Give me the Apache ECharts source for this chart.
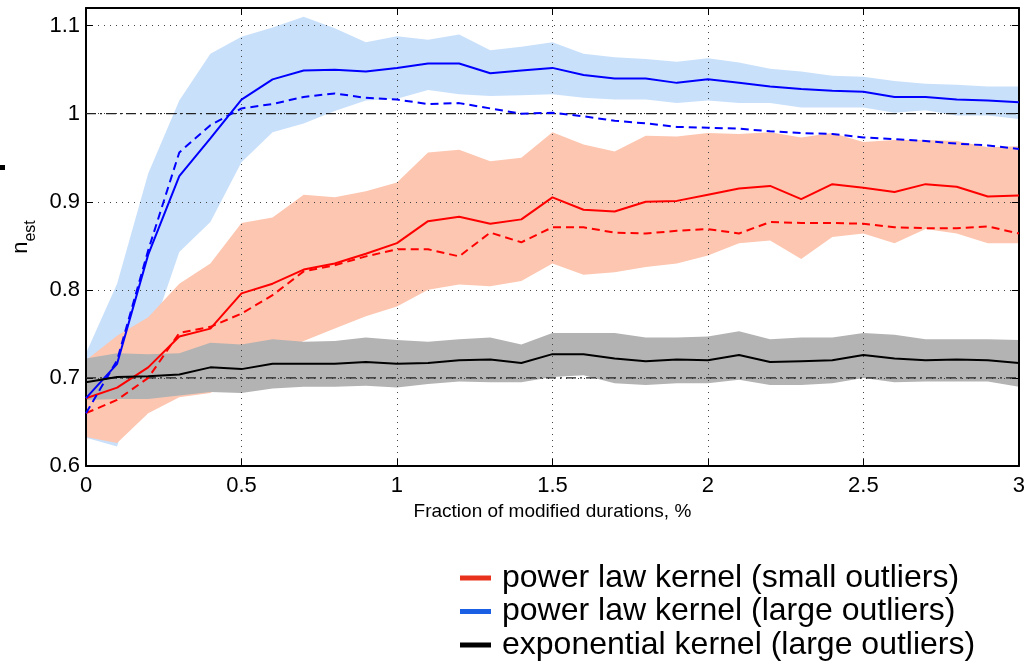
<!DOCTYPE html>
<html>
<head>
<meta charset="utf-8">
<script src="https://cdn.jsdelivr.net/npm/echarts@6/dist/echarts.min.js"></script>
<style>
html,body{margin:0;padding:0;background:#fff;}
#chart{width:1028px;height:663px;}
</style>
</head>
<body>
<div id="chart"></div>
<script>
// ---- data ----
var xs = [0,0.1,0.2,0.3,0.4,0.5,0.6,0.7,0.8,0.9,1.0,1.1,1.2,1.3,1.4,1.5,1.6,1.7,1.8,1.9,2.0,2.1,2.2,2.3,2.4,2.5,2.6,2.7,2.8,2.9,3.0];

var blueHi = [0.728,0.807,0.932,1.015,1.068,1.0875,1.098,1.110,1.097,1.081,1.088,1.084,1.090,1.072,1.076,1.081,1.068,1.064,1.062,1.059,1.063,1.058,1.051,1.048,1.043,1.042,1.037,1.034,1.033,1.031,1.031];
var blueLo = [0.632,0.622,0.740,0.843,0.877,0.945,0.979,0.989,1.003,1.015,1.017,1.027,1.022,1.020,1.021,1.022,1.018,1.016,1.016,1.012,1.015,1.012,1.012,1.007,1.007,1.007,1.001,1.004,0.998,0.998,0.994];
var blueMean = [0.677,0.716,0.840,0.929,0.972,1.016,1.039,1.049,1.050,1.048,1.052,1.057,1.057,1.046,1.049,1.052,1.044,1.040,1.040,1.035,1.039,1.035,1.031,1.028,1.026,1.025,1.019,1.019,1.016,1.015,1.013];
var blueDash = [0.660,0.720,0.845,0.956,0.987,1.006,1.011,1.019,1.023,1.018,1.016,1.011,1.012,1.006,1.000,1.001,0.997,0.992,0.989,0.985,0.984,0.983,0.980,0.978,0.977,0.973,0.971,0.969,0.966,0.964,0.960];

var redHi = [0.720,0.748,0.769,0.807,0.830,0.876,0.882,0.908,0.905,0.912,0.922,0.956,0.959,0.946,0.950,0.979,0.965,0.957,0.975,0.974,0.978,0.977,0.979,0.973,0.978,0.968,0.970,0.970,0.969,0.962,0.963];
var redLo = [0.633,0.626,0.660,0.678,0.683,0.705,0.728,0.742,0.756,0.770,0.781,0.800,0.806,0.804,0.810,0.830,0.817,0.820,0.826,0.830,0.839,0.853,0.856,0.835,0.860,0.864,0.853,0.869,0.864,0.853,0.853];
var redMean = [0.677,0.689,0.712,0.747,0.756,0.796,0.807,0.823,0.830,0.841,0.853,0.878,0.883,0.875,0.880,0.905,0.891,0.889,0.900,0.901,0.908,0.915,0.918,0.903,0.920,0.916,0.911,0.920,0.917,0.906,0.907];
var redDash = [0.660,0.675,0.700,0.751,0.758,0.773,0.794,0.821,0.828,0.838,0.846,0.846,0.838,0.865,0.854,0.871,0.871,0.865,0.864,0.867,0.869,0.864,0.877,0.876,0.876,0.875,0.871,0.870,0.870,0.872,0.864];

var grayHi = [0.722,0.728,0.727,0.728,0.740,0.738,0.744,0.741,0.742,0.746,0.743,0.741,0.744,0.746,0.738,0.751,0.751,0.751,0.746,0.746,0.747,0.753,0.744,0.746,0.746,0.751,0.749,0.744,0.744,0.744,0.743];
var grayLo = [0.675,0.676,0.676,0.680,0.684,0.683,0.688,0.690,0.690,0.691,0.689,0.693,0.696,0.695,0.695,0.701,0.703,0.694,0.692,0.694,0.694,0.698,0.692,0.692,0.694,0.700,0.695,0.696,0.696,0.696,0.690];
var blackMean = [0.695,0.701,0.702,0.704,0.712,0.710,0.716,0.716,0.716,0.718,0.716,0.717,0.720,0.721,0.717,0.727,0.727,0.722,0.719,0.721,0.720,0.726,0.718,0.719,0.720,0.726,0.722,0.720,0.721,0.720,0.717];

var refLevels = [1.0, 0.7];
var xTicks = [0, 3, 0.5];       // min, max, interval
var yTicks = [0.6, 1.12, 0.1];  // min, max, interval

var legendNames = ['power law kernel (small outliers)', 'power law kernel (large outliers)', 'exponential kernel (large outliers)'];
var legendColors = ['#e8321c', '#1b60e4', '#000000'];

// ---- helpers ----
var FONT = '"Liberation Sans", Arial, Helvetica, sans-serif';
function pts(arr){ return xs.map(function(x,i){ return [x, arr[i]]; }); }

function band(key, lo, hi, color){
  return {
    type:'custom', name:key, silent:true, z:1, clip:true,
    data: xs.map(function(x,i){ return [x, lo[i], hi[i]]; }),
    encode:{x:0, y:[1,2]},
    renderItem:function(params, api){
      if (params.dataIndex !== 0) return null;
      var top = [], bot = [];
      for (var i = 0; i < xs.length; i++) {
        top.push(api.coord([xs[i], hi[i]]));
        bot.push(api.coord([xs[i], lo[i]]));
      }
      var poly = top.concat(bot.reverse());
      return {type:'polygon', shape:{points:poly}, style:{fill:color, stroke:null}};
    }
  };
}
function line(name, arr, color, dashed){
  return {type:'line', name:name, data:pts(arr), symbol:'none', z:3,
    lineStyle:{color:color, width:2, type: dashed ? [8,5] : 'solid'},
    itemStyle:{color:color}};
}

var series = [];
series.push(band('blue', blueLo, blueHi, '#c9e0fb'));
series.push(band('red', redLo, redHi, '#fdc6b0'));
series.push(band('gray', grayLo, grayHi, '#b3b3b3'));
refLevels.forEach(function(v, k){
  series.push({type:'line', name:'ref'+k, data:[[xTicks[0], v],[xTicks[1], v]], symbol:'none', z:2, silent:true,
    lineStyle:{color:'#222', width:1.3, type:[10,4,2,4]}});
});
series.push(line('redDash', redDash, '#ff0000', true));
series.push(line(legendNames[0], redMean, '#ff0000', false));
series.push(line('blueDash', blueDash, '#0000ff', true));
series.push(line(legendNames[1], blueMean, '#0000ff', false));
series.push(line(legendNames[2], blackMean, '#000000', false));

var legendTops = [562, 595.5, 629];
var legends = legendNames.map(function(n, i){
  return {
    orient:'vertical', left:460, top:legendTops[i], padding:0, itemGap:0,
    itemWidth:31, itemHeight:5, icon:'rect', selectedMode:false,
    textStyle:{fontSize:32, fontFamily:FONT, color:'#000', lineHeight:25, padding:[0,0,0,6]},
    data:[{name:n, itemStyle:{color:legendColors[i]}}]
  };
});

var chart = echarts.init(document.getElementById('chart'), null, {renderer:'canvas'});
var axisLine = {show:true, onZero:false, lineStyle:{color:'#000', width:2}};
var tick = {show:true, inside:true, length:7, lineStyle:{color:'#000', width:1}};
var dotted = {show:true, lineStyle:{color:'#444', width:1, type:[1,5]}};

chart.setOption({
  animation:false,
  backgroundColor:'#fff',
  grid:{left:86, right:3, top:8, bottom:197, containLabel:false},
  legend:legends,
  xAxis:[
    {type:'value', position:'bottom', min:xTicks[0], max:xTicks[1], interval:xTicks[2],
     axisLine:axisLine, axisTick:tick, splitLine:dotted, z:2,
     axisLabel:{fontSize:22, fontFamily:FONT, color:'#000', margin:9,
       formatter:function(v){ return String(Math.round(v*10)/10); }},
     name:'Fraction of modified durations, %', nameLocation:'middle', nameGap:32,
     nameTextStyle:{fontSize:19, fontFamily:FONT, color:'#000'}},
    {type:'value', position:'top', min:xTicks[0], max:xTicks[1], interval:xTicks[2],
     axisLine:axisLine, axisTick:tick, splitLine:{show:false}, axisLabel:{show:false}, z:2}
  ],
  yAxis:[
    {type:'value', position:'left', min:yTicks[0], max:yTicks[1], interval:yTicks[2],
     axisLine:axisLine, axisTick:tick, splitLine:dotted, z:2,
     axisLabel:{fontSize:22, fontFamily:FONT, color:'#000', margin:6, showMaxLabel:false,
       formatter:function(v){ return String(Math.round(v*10)/10); }},
     name:'{n|n}{s|est}', nameLocation:'middle', nameGap:46, nameRotate:90,
     nameTextStyle:{fontFamily:FONT, color:'#000',
       rich:{n:{fontSize:22, fontFamily:FONT, color:'#000', verticalAlign:'top', lineHeight:22},
             s:{fontSize:16, fontFamily:FONT, color:'#000', verticalAlign:'top', lineHeight:16, padding:[13,0,0,0]}}}},
    {type:'value', position:'right', min:yTicks[0], max:yTicks[1], interval:yTicks[2],
     axisLine:axisLine, axisTick:tick, splitLine:{show:false}, axisLabel:{show:false}, z:2}
  ],
  graphic:[
    {type:'rect', left:0, top:165, shape:{width:5, height:5}, style:{fill:'#000'}}
  ],
  series:series
});
</script>
</body>
</html>
